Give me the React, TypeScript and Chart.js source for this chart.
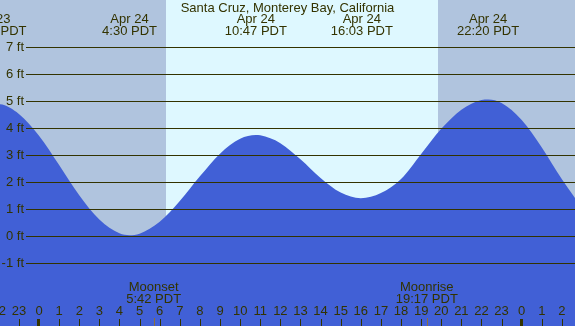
import React, { useEffect, useRef } from "react";
import { Chart, registerables } from "chart.js";

Chart.register(...registerables);

// Hours relative to midnight Apr 24 (PDT)
const hours = [-3, -2, -1, 0, 1, 2, 3, 4, 4.5, 5, 6, 7, 8, 9, 10, 10.78, 11, 12, 13, 14, 15, 16, 17, 18, 19, 20, 21, 22, 22.33, 23, 24, 25, 26, 27];
const heights = [4.75, 4.89, 4.53, 3.72, 2.64, 1.52, 0.62, 0.11, 0.04, 0.1, 0.54, 1.31, 2.22, 3.06, 3.61, 3.75, 3.74, 3.45, 2.85, 2.16, 1.62, 1.41, 1.6, 2.12, 3.05, 3.98, 4.69, 5.05, 5.07, 4.94, 4.31, 3.29, 2.11, 1.06];

const title = "Santa Cruz, Monterey Bay, California";
const extremaHours = [4.5, 10.78, 16.05, 22.33];
const extremaDates = ["Apr 24", "Apr 24", "Apr 24", "Apr 24"];
const extremaTimes = ["4:30 PDT", "10:47 PDT", "16:03 PDT", "22:20 PDT"];
const prevDate = "Apr 23";
const prevTime = "21:48 PDT";
const yTicks = [7, 6, 5, 4, 3, 2, 1, 0, -1];
const hourTicks = [-2, -1, 0, 1, 2, 3, 4, 5, 6, 7, 8, 9, 10, 11, 12, 13, 14, 15, 16, 17, 18, 19, 20, 21, 22, 23, 24, 25, 26];
const sunrise = 6.315;
const sunset = 19.84;
const moonEvents = [
  { h: 5.7, name: "Moonset", time: "5:42 PDT" },
  { h: 19.28, name: "Moonrise", time: "19:17 PDT" },
];

const X_MIN = -1.94;
const X_MAX = 26.65;
const Y_MIN = -3.32;
const Y_MAX = 8.75;

const NIGHT = "rgb(176,196,222)";
const DAY = "rgb(222,248,255)";
const FILL = "rgb(65,96,214)";
const INK = "rgb(51,51,0)";
const FONT = '13px "Liberation Sans", Arial, sans-serif';

export default function App() {
  const ref = useRef<HTMLCanvasElement | null>(null);

  useEffect(() => {
    const canvas = ref.current;
    if (!canvas) return;

    const overlay = {
      id: "tideOverlay",
      beforeDraw(chart: any) {
        const { ctx } = chart;
        const xs = chart.scales.x;
        const W = chart.width;
        const H = chart.height;
        const xr = Math.round(xs.getPixelForValue(sunrise));
        const xset = Math.round(xs.getPixelForValue(sunset));
        ctx.save();
        ctx.fillStyle = NIGHT;
        ctx.fillRect(0, 0, xr, H);
        ctx.fillRect(xset, 0, W - xset, H);
        ctx.fillStyle = DAY;
        ctx.fillRect(xr, 0, xset - xr, H);
        ctx.restore();
      },
      afterDatasetsDraw(chart: any) {
        const { ctx } = chart;
        const xs = chart.scales.x;
        const ys = chart.scales.y;
        const W = chart.width;
        const H = chart.height;
        ctx.save();
        ctx.font = FONT;
        ctx.fillStyle = INK;
        ctx.textBaseline = "middle";
        ctx.textAlign = "right";
        yTicks.forEach((v) => {
          const y = Math.round(ys.getPixelForValue(v));
          ctx.fillRect(26, y, W - 26, 1);
          ctx.fillText(`${v} ft`, 24, y + 0.5);
        });
        ctx.textAlign = "center";
        ctx.fillText(title, W / 2, 8);
        extremaHours.forEach((h, i) => {
          const x = xs.getPixelForValue(h);
          ctx.fillText(extremaDates[i], x, 19);
          ctx.fillText(extremaTimes[i], x, 31.5);
        });
        ctx.textAlign = "right";
        ctx.fillText(prevDate, 10.5, 19);
        ctx.fillText(prevTime, 26.5, 31.5);
        ctx.textAlign = "center";
        moonEvents.forEach((m) => {
          const x = xs.getPixelForValue(m.h);
          ctx.fillStyle = INK;
          ctx.fillText(m.name, x, 287);
          ctx.fillText(m.time, x, 299);
          ctx.fillStyle = "rgb(140,110,60)";
          ctx.fillRect(Math.round(x), 318, 1, H - 318);
        });
        hourTicks.forEach((h) => {
          const x = xs.getPixelForValue(h);
          const lab = (((h % 24) + 24) % 24).toString();
          ctx.fillStyle = INK;
          ctx.fillText(lab, x, 311.5);
          if (h % 24 === 0) {
            ctx.fillRect(Math.round(x) - 2, 319, 3, H - 319);
          } else {
            ctx.fillRect(Math.round(x), 319, 1, H - 319);
          }
        });
        ctx.restore();
      },
    };

    const chart = new Chart(canvas, {
      type: "line",
      data: {
        datasets: [
          {
            data: hours.map((h, i) => ({ x: h, y: heights[i] })),
            fill: "start",
            backgroundColor: FILL,
            borderColor: "rgba(0,0,0,0)",
            borderWidth: 0,
            pointRadius: 0,
            cubicInterpolationMode: "monotone",
          },
        ],
      },
      options: {
        animation: false,
        responsive: false,
        maintainAspectRatio: false,
        devicePixelRatio: 1,
        layout: { padding: 0 },
        events: [],
        scales: {
          x: { type: "linear", min: X_MIN, max: X_MAX, display: false },
          y: { type: "linear", min: Y_MIN, max: Y_MAX, display: false },
        },
        plugins: {
          legend: { display: false },
          tooltip: { enabled: false },
          title: { display: false },
        },
      },
      plugins: [overlay],
    } as any);

    return () => chart.destroy();
  }, []);

  return (
    <div style={{ position: "fixed", left: 0, top: 0, width: 575, height: 326 }}>
      <canvas ref={ref} width={575} height={326} style={{ display: "block", width: 575, height: 326 }} />
    </div>
  );
}
